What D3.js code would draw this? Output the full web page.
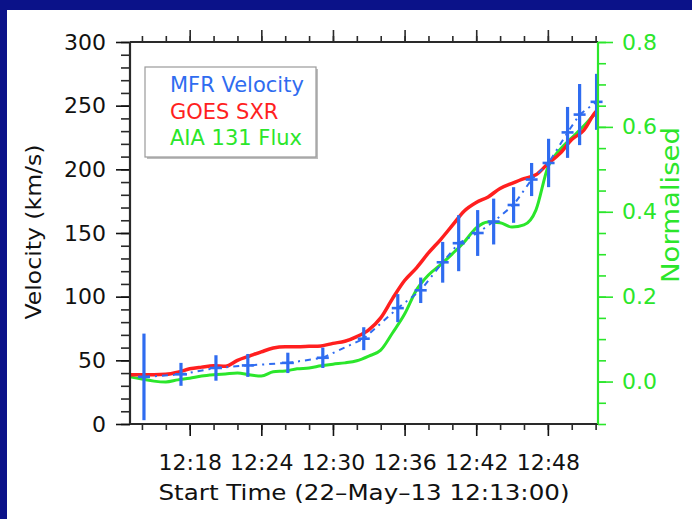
<!DOCTYPE html>
<html>
<head>
<meta charset="utf-8">
<script src="https://cdn.jsdelivr.net/npm/d3@7"></script>
<style>
  html, body { margin: 0; padding: 0; background: #0b1289; }
  svg { display: block; }
  text { font-family: "DejaVu Sans", "Liberation Sans", sans-serif; }
</style>
</head>
<body>
<svg id="chart" width="692" height="519"></svg>
<script>
// ---- data -------------------------------------------------------------
// MFR velocity samples: minutes after 12:13:00, km/s, error half-width
const mfrMinutes  = [1.17, 4.27, 7.20, 9.87, 13.22, 16.15, 19.58, 22.43, 24.35, 26.19,
                     27.53, 29.12, 30.46, 32.13, 33.64, 35.06, 36.65, 37.66, 39.08];
const mfrVelocity = [37, 39, 44, 46, 48, 52, 67, 91, 105, 127,
                     142, 150, 159, 172, 192, 205, 229, 243, 253];
const mfrError    = [34, 9, 10, 9, 8, 8, 9, 11, 10, 16,
                     22, 18, 18, 14, 13, 19, 20, 24, 22];

// Normalised light curves, one sample per minute after 12:13:00
const curveMinutes = [0, 1, 2, 3, 4, 5, 6, 7, 8, 9, 10, 11, 12, 13, 14, 15, 16, 17, 18, 19,
                      20, 21, 22, 23, 24, 25, 26, 27, 28, 29, 30, 31, 32, 33, 34, 35, 36, 37, 38, 39, 39.2];
const goesSxr = [0.016, 0.016, 0.016, 0.017, 0.022, 0.030, 0.034, 0.037, 0.036, 0.050,
                 0.060, 0.070, 0.079, 0.082, 0.082, 0.083, 0.084, 0.090, 0.095, 0.106,
                 0.122, 0.150, 0.196, 0.238, 0.268, 0.303, 0.334, 0.368, 0.402, 0.422,
                 0.435, 0.455, 0.467, 0.478, 0.487, 0.513, 0.537, 0.570, 0.592, 0.635, 0.640];
const aia131  = [0.011, 0.006, 0.001, -0.001, 0.004, 0.008, 0.013, 0.016, 0.018, 0.020,
                 0.016, 0.013, 0.023, 0.025, 0.030, 0.032, 0.037, 0.041, 0.044, 0.049,
                 0.060, 0.074, 0.115, 0.159, 0.216, 0.251, 0.275, 0.301, 0.329, 0.362,
                 0.376, 0.374, 0.364, 0.369, 0.404, 0.505, 0.546, 0.574, 0.602, 0.631, 0.635];

const velocityTicks = [0, 50, 100, 150, 200, 250, 300];
const normTicks = [0.0, 0.2, 0.4, 0.6, 0.8];
const timeTickLabels = ["12:18", "12:24", "12:30", "12:36", "12:42", "12:48"];
const legendLabels = ["MFR Velocity", "GOES SXR", "AIA 131 Flux"];

// ---- setup ------------------------------------------------------------
const W = 692, H = 519;
const svg = d3.select("#chart");
const BLUE = "#2f6cf0", RED = "#ff1f1f", GREEN = "#2be62b", AXIS = "#2a2a2a";

// white panel on the navy slide
svg.append("rect").attr("x", 7).attr("y", 10).attr("width", W - 7).attr("height", H - 10)
   .attr("fill", "#ffffff");

const plot = { left: 130, right: 598, top: 42, bottom: 424 };
const t0 = new Date(2013, 4, 22, 12, 13, 0);
const atMinute = m => new Date(t0.getTime() + m * 60000);
const x = d3.scaleTime().domain([t0, atMinute(39.2)]).range([plot.left, plot.right]);
const yV = d3.scaleLinear().domain([0, 300]).range([plot.bottom, plot.top]);
const yN = d3.scaleLinear().domain([-0.1, 0.8]).range([plot.bottom, plot.top]);

const parseHM = d3.timeParse("%H:%M");
const majorTimes = timeTickLabels.map(s => {
  const p = parseHM(s);
  return new Date(2013, 4, 22, p.getHours(), p.getMinutes(), 0);
});
const minorTimes = d3.timeMinute.every(2).range(t0, atMinute(39.2));

function styleAxis(g, color) {
  g.selectAll(".domain").remove();
  g.selectAll("line").attr("stroke", color).attr("stroke-width", 1.6);
  g.selectAll("text").attr("fill", color).attr("font-size", 22)
   .attr("font-family", "\"DejaVu Sans\", sans-serif");
}

// ---- curves (drawn under the velocity points) -------------------------
const curve = vals => d3.line()
  .x((d, i) => x(atMinute(curveMinutes[i])))
  .y(d => yN(d))
  .curve(d3.curveMonotoneX)(vals);

svg.append("path").attr("d", curve(aia131)).attr("fill", "none")
   .attr("stroke", GREEN).attr("stroke-width", 3).attr("stroke-linejoin", "round");
svg.append("path").attr("d", curve(goesSxr)).attr("fill", "none")
   .attr("stroke", RED).attr("stroke-width", 3.5).attr("stroke-linejoin", "round");

// ---- MFR velocity with error bars --------------------------------------
const mfr = mfrMinutes.map((m, i) => ({ t: atMinute(m), v: mfrVelocity[i], e: mfrError[i] }));
svg.append("path")
   .attr("d", d3.line().x(d => x(d.t)).y(d => yV(d.v))(mfr))
   .attr("fill", "none").attr("stroke", BLUE).attr("stroke-width", 2)
   .attr("stroke-dasharray", "6,5,2,5");
const pts = svg.append("g");
pts.selectAll("line.err").data(mfr).join("line").attr("class", "err")
   .attr("x1", d => x(d.t)).attr("x2", d => x(d.t))
   .attr("y1", d => yV(d.v - d.e)).attr("y2", d => yV(d.v + d.e))
   .attr("stroke", BLUE).attr("stroke-width", 3.2);
pts.selectAll("line.sym").data(mfr).join("line").attr("class", "sym")
   .attr("x1", d => x(d.t) - 6).attr("x2", d => x(d.t) + 6)
   .attr("y1", d => yV(d.v)).attr("y2", d => yV(d.v))
   .attr("stroke", BLUE).attr("stroke-width", 2.6);

// ---- axes ------------------------------------------------------------
// bottom: minor every 2 min, labelled majors every 6 min
svg.append("g").attr("transform", `translate(0,${plot.bottom})`)
   .call(d3.axisBottom(x).tickValues(minorTimes).tickSize(6).tickFormat(""))
   .call(g => styleAxis(g, AXIS));
svg.append("g").attr("transform", `translate(0,${plot.bottom})`)
   .call(d3.axisBottom(x).tickValues(majorTimes).tickSize(12).tickPadding(18)
          .tickFormat((d, i) => timeTickLabels[i]))
   .call(g => styleAxis(g, "#111"));
// top mirror
svg.append("g").attr("transform", `translate(0,${plot.top})`)
   .call(d3.axisTop(x).tickValues(minorTimes).tickSize(6).tickFormat(""))
   .call(g => styleAxis(g, AXIS));
svg.append("g").attr("transform", `translate(0,${plot.top})`)
   .call(d3.axisTop(x).tickValues(majorTimes).tickSize(12).tickFormat(""))
   .call(g => styleAxis(g, AXIS));

// left: velocity
svg.append("g").attr("transform", `translate(${plot.left},0)`)
   .call(d3.axisLeft(yV).tickValues(d3.range(0, 301, 10)).tickSize(9).tickFormat(""))
   .call(g => styleAxis(g, AXIS));
svg.append("g").attr("transform", `translate(${plot.left},0)`)
   .call(d3.axisLeft(yV).tickValues(velocityTicks).tickSize(14).tickPadding(10))
   .call(g => styleAxis(g, "#111"));

// right: normalised flux
svg.append("g").attr("transform", `translate(${plot.right},0)`)
   .call(d3.axisRight(yN).tickValues(d3.range(-0.1, 0.801, 0.05)).tickSize(8).tickFormat(""))
   .call(g => styleAxis(g, GREEN));
svg.append("g").attr("transform", `translate(${plot.right},0)`)
   .call(d3.axisRight(yN).tickValues(normTicks).tickSize(15).tickPadding(9).tickFormat(d3.format(".1f")))
   .call(g => styleAxis(g, GREEN));

// frame lines
const frame = svg.append("g").attr("stroke-width", 2.2);
frame.append("line").attr("x1", plot.left).attr("x2", plot.right)
     .attr("y1", plot.bottom).attr("y2", plot.bottom).attr("stroke", AXIS);
frame.append("line").attr("x1", plot.left).attr("x2", plot.right)
     .attr("y1", plot.top).attr("y2", plot.top).attr("stroke", AXIS);
frame.append("line").attr("x1", plot.left).attr("x2", plot.left)
     .attr("y1", plot.top).attr("y2", plot.bottom).attr("stroke", AXIS);
frame.append("line").attr("x1", plot.right).attr("x2", plot.right)
     .attr("y1", plot.top).attr("y2", plot.bottom).attr("stroke", GREEN);

// ---- axis titles -------------------------------------------------------
svg.append("text").attr("x", 364).attr("y", 492).attr("text-anchor", "middle")
   .attr("dominant-baseline", "central").attr("font-size", 22).attr("fill", "#111")
   .attr("textLength", 411).attr("lengthAdjust", "spacingAndGlyphs")
   .text("Start Time (22\u2013May\u201313 12:13:00)");
svg.append("text").attr("transform", "translate(33,232) rotate(-90)")
   .attr("text-anchor", "middle").attr("dominant-baseline", "central")
   .attr("font-size", 22).attr("fill", "#111")
   .attr("textLength", 175).attr("lengthAdjust", "spacingAndGlyphs")
   .text("Velocity (km/s)");
svg.append("text").attr("transform", "translate(670,205) rotate(-90)")
   .attr("text-anchor", "middle").attr("dominant-baseline", "central")
   .attr("font-size", 25).attr("fill", GREEN)
   .attr("textLength", 156).attr("lengthAdjust", "spacingAndGlyphs")
   .text("Normalised");

// ---- legend ------------------------------------------------------------
const legend = svg.append("g");
legend.append("rect").attr("x", 147).attr("y", 69).attr("width", 171).attr("height", 90)
      .attr("fill", "#bdbdbd");
legend.append("rect").attr("x", 145).attr("y", 67).attr("width", 171).attr("height", 90)
      .attr("fill", "#fff").attr("stroke", "#9a9a9a").attr("stroke-width", 1.2);
const legendColors = [BLUE, RED, GREEN];
legend.selectAll("text").data(legendLabels).join("text")
      .attr("x", 170).attr("y", (d, i) => 85 + i * 26.5)
      .attr("dominant-baseline", "central").attr("font-size", 21)
      .attr("fill", (d, i) => legendColors[i]).text(d => d);
</script>
</body>
</html>
